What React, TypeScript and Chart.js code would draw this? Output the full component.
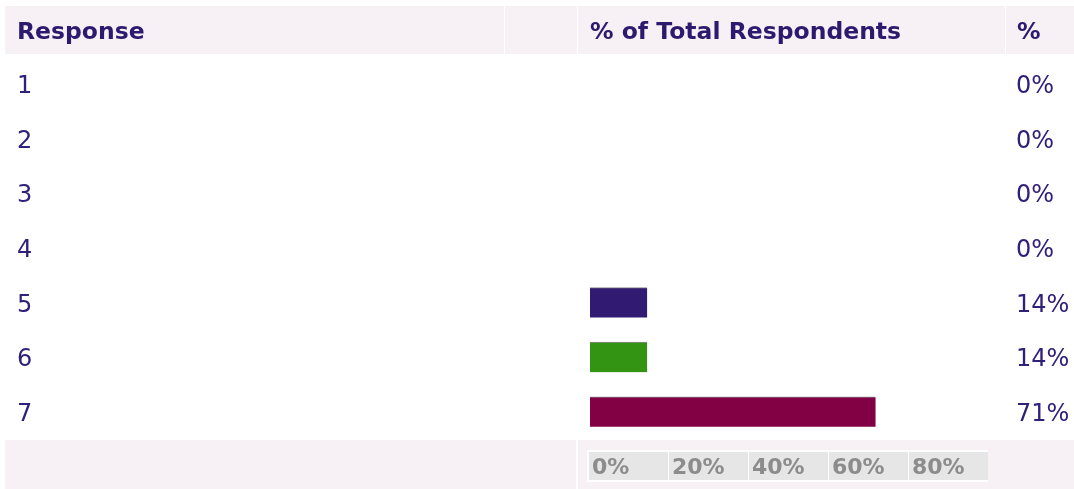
import React, { useEffect, useRef } from "react";
import { Chart, registerables } from "chart.js";

Chart.register(...registerables);

const responses = ["1", "2", "3", "4", "5", "6", "7"];
const percentValues = [0, 0, 0, 0, 14.3, 14.3, 71.4];
const barColors = ["#311b72", "#311b72", "#311b72", "#311b72", "#311b72", "#339414", "#820044"];
const tickValues = [0, 20, 40, 60, 80];
const headerLabels = ["Response", "% of Total Respondents", "%"];

const PINK = "#f7f0f5";
const TEXT = "#30207a";
const HEAD_TEXT = "#2d1a6f";

const tablePlugin = {
  id: "tablePlugin",
  beforeDraw(chart: any) {
    const ctx = chart.ctx;
    ctx.save();
    ctx.fillStyle = "#ffffff";
    ctx.fillRect(0, 0, chart.width, chart.height);
    ctx.fillStyle = PINK;
    // header cells
    ctx.fillRect(5, 6, 499, 48);
    ctx.fillRect(505, 6, 72, 48);
    ctx.fillRect(578, 6, 427, 48);
    ctx.fillRect(1006, 6, 68, 48);
    // footer cells
    ctx.fillRect(5, 440, 571, 49);
    ctx.fillRect(578, 440, 496, 49);
    ctx.restore();
  },
  afterDraw(chart: any) {
    const ctx = chart.ctx;
    const x = chart.scales.x;
    const y = chart.scales.y;
    ctx.save();
    // header text
    ctx.fillStyle = HEAD_TEXT;
    ctx.font = "bold 23.5px 'DejaVu Sans'";
    ctx.textAlign = "left";
    ctx.textBaseline = "alphabetic";
    ctx.fillText(headerLabels[0], 17, 39);
    ctx.fillText(headerLabels[1], 590, 39);
    ctx.fillText(headerLabels[2], 1017, 39);

    // row labels and percentages
    ctx.fillStyle = TEXT;
    ctx.font = "24px 'DejaVu Sans'";
    responses.forEach((r, i) => {
      const cy = y.getPixelForValue(i);
      ctx.fillText(r, 17, cy + 9);
      ctx.fillText(Math.round(percentValues[i]) + "%", 1016, cy + 9);
    });

    // axis tick boxes
    const x0 = x.getPixelForValue(0);
    const xEnd = x.getPixelForValue(100);
    ctx.fillStyle = "#ffffff";
    ctx.fillRect(x0 - 3, 450, xEnd - x0 + 1, 32);
    ctx.font = "bold 22px 'DejaVu Sans'";
    tickValues.forEach((v) => {
      const a = x.getPixelForValue(v);
      const b = x.getPixelForValue(v + 20);
      ctx.fillStyle = "#e6e6e6";
      ctx.fillRect(a - 1, 452, b - a - 1, 28);
      ctx.fillStyle = "#8c8c8c";
      ctx.fillText(v + "%", a + 2, 474);
    });
    ctx.restore();
  },
};

export default function App() {
  const ref = useRef<HTMLCanvasElement>(null);
  useEffect(() => {
    if (!ref.current) return;
    const chart = new Chart(ref.current, {
      type: "bar",
      data: {
        labels: responses,
        datasets: [
          {
            data: percentValues,
            backgroundColor: barColors,
            borderColor: "#8a8a8a",
            borderWidth: { top: 1, left: 0, right: 0, bottom: 0 },
            borderSkipped: false,
            barThickness: 30,
          },
        ],
      },
      options: {
        indexAxis: "y",
        responsive: false,
        animation: false,
        layout: { padding: { left: 590, right: 84, top: 57, bottom: 50 } },
        plugins: { legend: { display: false }, tooltip: { enabled: false } },
        scales: {
          x: { display: false, min: 0, max: 100 },
          y: { display: false },
        },
      },
      plugins: [tablePlugin],
    } as any);
    return () => chart.destroy();
  }, []);
  return (
    <div style={{ position: "fixed", left: 0, top: 0, width: 1074, height: 489 }}>
      <canvas ref={ref} width={1074} height={489} />
    </div>
  );
}
